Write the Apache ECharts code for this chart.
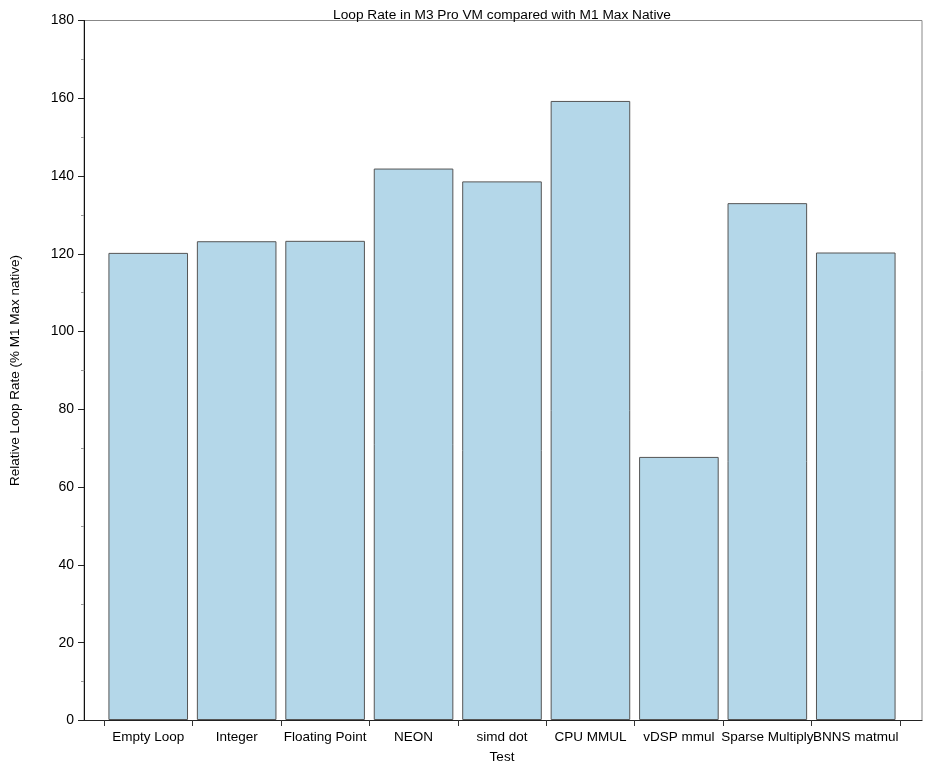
<!DOCTYPE html>
<html>
<head>
<meta charset="utf-8">
<script src="https://cdn.jsdelivr.net/npm/echarts@6/dist/echarts.min.js"></script>
<style>
  html, body { margin: 0; padding: 0; background: #fff; }
  #chart { width: 940px; height: 769px; }
</style>
</head>
<body>
<div id="chart"></div>
<script>
"use strict";

// 测试项
const categories = [
  "Empty Loop",
  "Integer",
  "Floating Point",
  "NEON",
  "simd dot",
  "CPU MMUL",
  "vDSP mmul",
  "Sparse Multiply",
  "BNNS matmul",
];

// 相对速率 (% M1 Max native)
const rates = [120.2, 123.2, 123.3, 141.9, 138.6, 159.3, 67.7, 133.0, 120.3];

// y 轴刻度
const yMin = 0;
const yMax = 180;
const yStep = 20;

const font = "Liberation Sans, Arial, Helvetica, sans-serif";

const chart = echarts.init(document.getElementById("chart"));

chart.setOption({
  animation: false,
  title: {
    text: "Loop Rate in M3 Pro VM compared with M1 Max Native",
    left: 497,
    textAlign: "center",
    top: 3,
    textStyle: { fontFamily: font, fontSize: 13.7, fontWeight: "normal", color: "#000" },
  },
  grid: [
    {
      // 外框
      left: 82.5,
      right: 18,
      top: 20.5,
      bottom: 48.5,
      show: true,
      borderColor: "#888",
      borderWidth: 1,
    },
    {
      // 柱形区域
      left: 104,
      right: 40,
      top: 20.5,
      bottom: 48.5,
    },
  ],
  xAxis: [
    {
      // 底部轴线
      gridIndex: 0,
      type: "value",
      min: 0,
      max: 1,
      position: "bottom",
      axisLine: { show: true, onZero: false, lineStyle: { color: "#222", width: 1 } },
      axisTick: { show: false },
      axisLabel: { show: false },
      splitLine: { show: false },
    },
    {
      gridIndex: 1,
      type: "category",
      data: categories,
      name: "Test",
      nameLocation: "middle",
      nameGap: 30,
      nameTextStyle: { fontFamily: font, fontSize: 13.5, color: "#000" },
      axisLine: { show: true, onZero: false, lineStyle: { color: "#222", width: 1 } },
      axisTick: { show: true, length: 6, lineStyle: { color: "#333", width: 1 } },
      axisLabel: { fontFamily: font, fontSize: 13.5, color: "#000", margin: 10, interval: 0 },
      splitLine: { show: false },
    },
  ],
  yAxis: [
    {
      gridIndex: 0,
      type: "value",
      position: "left",
      min: yMin,
      max: yMax,
      interval: yStep,
      name: "Relative Loop Rate (% M1 Max native)",
      nameLocation: "middle",
      nameGap: 62,
      nameTextStyle: { fontFamily: font, fontSize: 13.5, color: "#000" },
      axisLine: { show: true, onZero: false, lineStyle: { color: "#111", width: 1 } },
      axisTick: { show: true, length: 6, lineStyle: { color: "#222", width: 1 } },
      minorTick: { show: true, splitNumber: 2, length: 3, lineStyle: { color: "#999" } },
      axisLabel: { fontFamily: font, fontSize: 14, color: "#000", margin: 10 },
      splitLine: { show: false },
    },
    {
      gridIndex: 1,
      type: "value",
      min: yMin,
      max: yMax,
      interval: yStep,
      show: false,
      splitLine: { show: false },
    },
  ],
  series: [
    {
      type: "bar",
      xAxisIndex: 1,
      yAxisIndex: 1,
      data: rates,
      barCategoryGap: "10%",
      itemStyle: {
        color: "#b4d7e9",
        borderColor: "#555",
        borderWidth: 1,
      },
    },
  ],
});
</script>
</body>
</html>
